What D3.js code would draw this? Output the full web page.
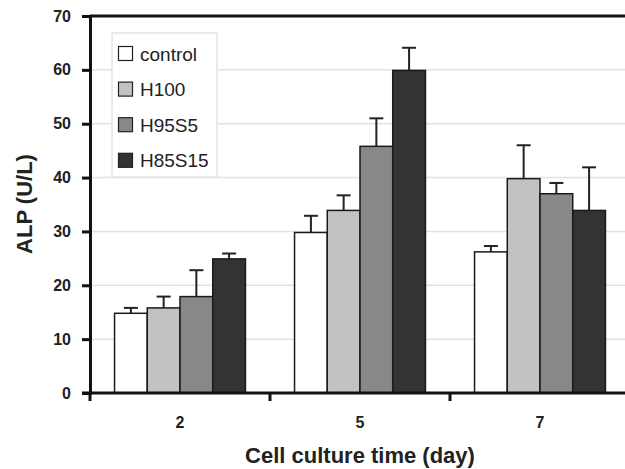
<!DOCTYPE html>
<html><head><meta charset="utf-8">
<script src="https://cdn.jsdelivr.net/npm/d3@7"></script>
<style>body{margin:0;background:#fff}svg{display:block;font-family:"Liberation Sans",Arial,sans-serif}</style>
</head><body>
<svg id="c" width="625" height="469"></svg>
<script>
const categories = ["2", "5", "7"];
const series = ["control", "H100", "H95S5", "H85S15"];
const colors = ["#ffffff", "#c2c2c2", "#888888", "#333333"];
const values = [
  [14.8, 29.8, 26.2],
  [15.8, 33.9, 39.8],
  [17.9, 45.8, 37.0],
  [24.9, 59.9, 33.9]
];
const errors = [
  [1.0, 3.1, 1.1],
  [2.1, 2.8, 6.2],
  [4.9, 5.2, 2.0],
  [1.0, 4.2, 8.0]
];
const yTicks = [0, 10, 20, 30, 40, 50, 60, 70];

const svg = d3.select("#c");
const L = 90, R = 630, T = 16, B = 393;
const y = d3.scaleLinear().domain([0, 70]).range([B, T]);
const x0 = d3.scaleBand().domain(categories).range([L, R]).paddingInner(0).paddingOuter(0);
const x1 = d3.scaleBand().domain(series).range([0, x0.bandwidth()]).paddingInner(0).paddingOuter(0.75);

// gridlines
svg.append("g").selectAll("line").data(yTicks.filter(d => d > 0 && d < 70)).join("line")
  .attr("x1", L).attr("x2", 625).attr("y1", d => y(d)).attr("y2", d => y(d))
  .attr("stroke", "#e2e2e2").attr("stroke-width", 1.5);

// top line
svg.append("line").attr("x1", L).attr("x2", 625).attr("y1", y(70)).attr("y2", y(70))
  .attr("stroke", "#111").attr("stroke-width", 3);

// bars
const data = [];
series.forEach((s, si) => categories.forEach((c, ci) => data.push({s, si, c, v: values[si][ci], e: errors[si][ci]})));
const g = svg.append("g");
g.selectAll("rect").data(data).join("rect")
  .attr("x", d => x0(d.c) + x1(d.s))
  .attr("width", x1.bandwidth())
  .attr("y", d => y(d.v))
  .attr("height", d => y(0) - y(d.v))
  .attr("fill", d => colors[d.si])
  .attr("stroke", "#1a1a1a").attr("stroke-width", 1.5);

// error bars
const eg = svg.append("g").attr("stroke", "#222").attr("stroke-width", 2);
data.forEach(d => {
  const cx = x0(d.c) + x1(d.s) + x1.bandwidth() / 2;
  eg.append("line").attr("x1", cx).attr("x2", cx).attr("y1", y(d.v)).attr("y2", y(d.v + d.e));
  eg.append("line").attr("x1", cx - 7).attr("x2", cx + 7).attr("y1", y(d.v + d.e)).attr("y2", y(d.v + d.e));
});

// y axis
const yAxis = d3.axisLeft(y).tickValues(yTicks).tickSize(8).tickPadding(11);
const ya = svg.append("g").attr("transform", `translate(${L},0)`).call(yAxis);
ya.select(".domain").attr("stroke", "#111").attr("stroke-width", 3);
ya.selectAll(".tick line").attr("stroke", "#111").attr("stroke-width", 3);
ya.selectAll(".tick text").attr("font-size", 16).attr("font-weight", "bold").attr("fill", "#222")
  .attr("font-family", "Liberation Sans, Arial, sans-serif");

// x axis
const xa = svg.append("g").attr("transform", `translate(0,${B})`);
xa.append("line").attr("x1", L - 8).attr("x2", 625).attr("y1", 0).attr("y2", 0)
  .attr("stroke", "#111").attr("stroke-width", 3);
xa.selectAll("line.tk").data(categories).join("line").attr("class", "tk")
  .attr("x1", d => x0(d)).attr("x2", d => x0(d)).attr("y1", 0).attr("y2", 8)
  .attr("stroke", "#111").attr("stroke-width", 3);
xa.selectAll("text").data(categories).join("text")
  .attr("x", d => x0(d) + x0.bandwidth() / 2).attr("y", 35)
  .attr("text-anchor", "middle").attr("font-size", 16).attr("font-weight", "bold").attr("fill", "#222")
  .text(d => d);

// axis titles
svg.append("text").attr("x", 360).attr("y", 463).attr("text-anchor", "middle")
  .attr("font-size", 22).attr("font-weight", "bold").attr("fill", "#222").text("Cell culture time (day)");
svg.append("text").attr("transform", "translate(32,204) rotate(-90)").attr("text-anchor", "middle")
  .attr("font-size", 22).attr("font-weight", "bold").attr("fill", "#222").text("ALP (U/L)");

// legend
const lg = svg.append("g");
lg.append("rect").attr("x", 112).attr("y", 33).attr("width", 105).attr("height", 144)
  .attr("fill", "#fff").attr("stroke", "#e4e4e4").attr("stroke-width", 1.5);
series.forEach((s, i) => {
  const cy = 53.5 + i * 35.6;
  lg.append("rect").attr("x", 118.5).attr("y", cy - 7).attr("width", 14).attr("height", 14)
    .attr("fill", colors[i]).attr("stroke", "#222").attr("stroke-width", 1.2);
  lg.append("text").attr("x", 140).attr("y", cy + 7).attr("font-size", 19).attr("fill", "#222").text(s);
});
</script>
</body></html>
